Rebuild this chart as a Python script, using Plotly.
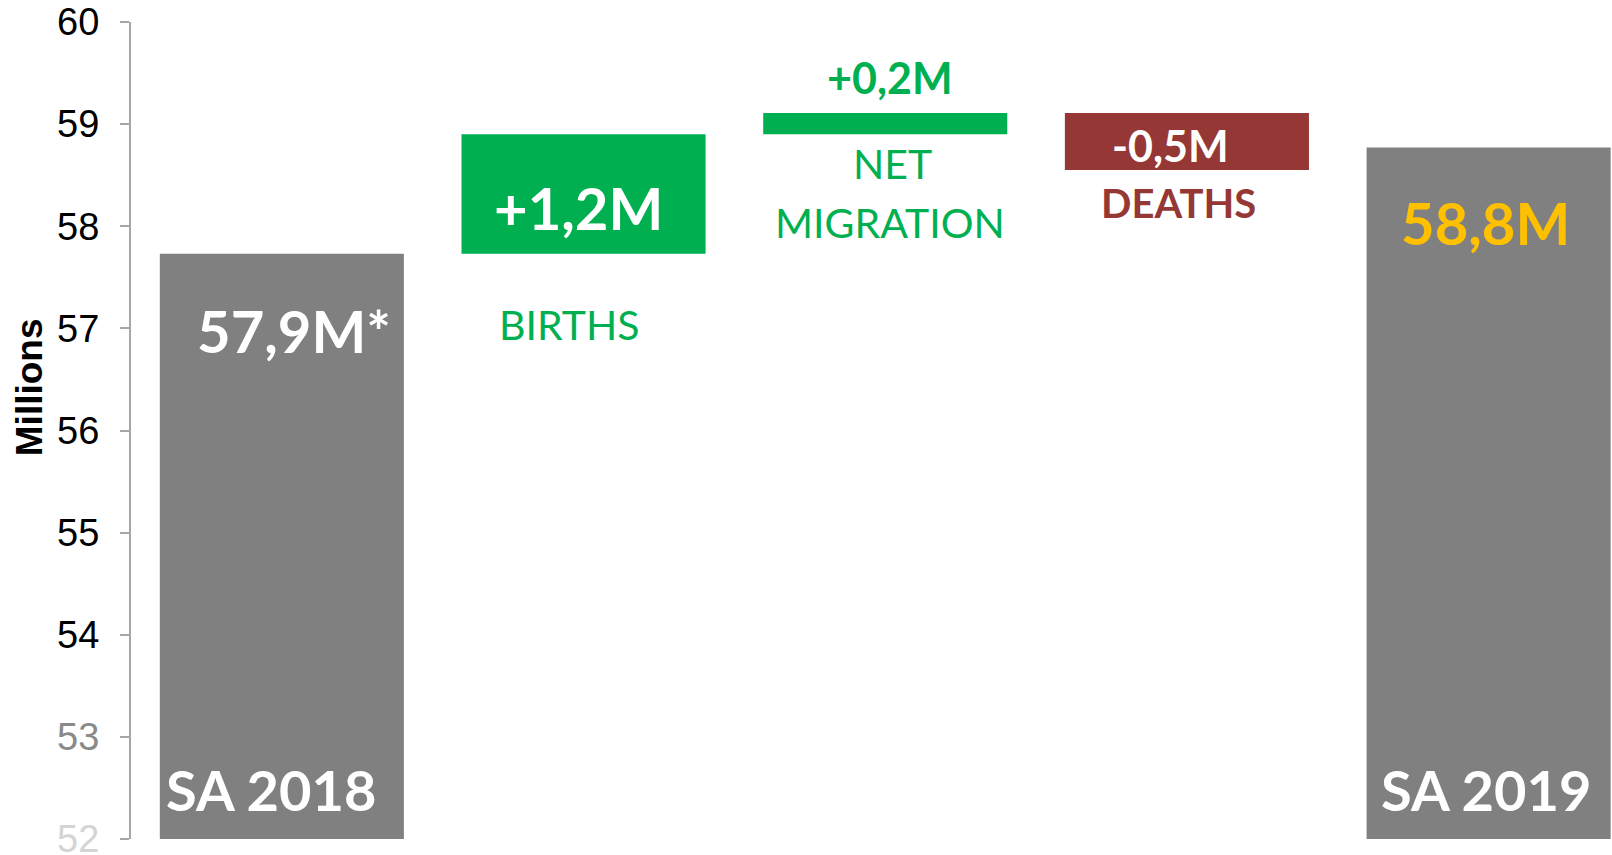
import plotly.graph_objects as go

categories = ["SA 2018", "Births", "Net migration", "Deaths", "SA 2019"]
bar_low = [0.0, 57.73, 58.90, 58.55, 0.0]
bar_high = [57.73, 58.90, 59.11, 59.11, 58.77]
bar_colors = ["#808080", "#00B050", "#00B050", "#953735", "#808080"]

tick_vals = [52, 53, 54, 55, 56, 57, 58, 59, 60]
tick_text = ['<span style="color:#d4d4d4">52</span>', '<span style="color:#8a8a8a">53</span>',
             "54", "55", "56", "57", "58", "59", "60"]

GREEN = "#00B050"
RED = "#953735"
YELLOW = "#FFC000"
LABEL_FONT = "Lato"

heights = [h - l for h, l in zip(bar_high, bar_low)]

fig = go.Figure(go.Bar(
    x=categories, y=heights, base=bar_low,
    marker=dict(color=bar_colors, line=dict(width=0)),
    hoverinfo="skip",
))

def ann(cat, y, text, color, size, bold=True, xshift=0):
    t = f"<b>{text}</b>" if bold else text
    fig.add_annotation(x=cat, y=y, xref="x", yref="y", text=t, showarrow=False,
                       font=dict(family=LABEL_FONT, size=size, color=color),
                       xanchor="center", yanchor="middle", xshift=xshift)

# value / name labels
ann(categories[0], 56.98, "57,9M*", "white", 58, xshift=12)
ann(categories[0], 52.48, "SA 2018", "white", 56, xshift=-11)
ann(categories[1], 58.18, "+1,2M", "white", 58, xshift=-5)
ann(categories[1], 57.04, "BIRTHS", GREEN, 41, bold=False, xshift=-15)
ann(categories[2], 59.46, "+0,2M", GREEN, 43, xshift=5)
ann(categories[2], 58.61, "NET", GREEN, 41, bold=False, xshift=7)
ann(categories[2], 58.04, "MIGRATION", GREEN, 41, bold=False, xshift=5)
ann(categories[3], 58.79, "-0,5M", "white", 43, xshift=-16)
ann(categories[3], 58.23, "DEATHS", RED, 40, xshift=-8)
ann(categories[4], 58.04, "58,8M", YELLOW, 58, xshift=-3)
ann(categories[4], 52.48, "SA 2019", "white", 56, xshift=-3)

W, H = 1612, 855
ML, MT, MB = 131, 22, 16

# y-axis title
fig.add_annotation(x=(29 - ML) / (W - ML), y=0.553, xref="paper", yref="paper",
                   text="<b>Millions</b>", textangle=-90, showarrow=False,
                   font=dict(family="Liberation Sans", size=37, color="black"),
                   xanchor="center", yanchor="middle")

fig.update_layout(
    width=W, height=H,
    margin=dict(l=ML, r=0, t=MT, b=MB, autoexpand=False),
    paper_bgcolor="white", plot_bgcolor="white",
    bargap=0.191,
    showlegend=False,
    xaxis=dict(visible=False, range=[-0.5, 4.409], type="category", automargin=False),
    yaxis=dict(range=[52, 60], tickvals=tick_vals, ticktext=tick_text, automargin=False,
               showgrid=False, zeroline=False, showline=True, linecolor="#a6a6a6",
               linewidth=2, ticks="outside", ticklen=9, tickcolor="#a6a6a6", tickwidth=2,
               tickfont=dict(family="Liberation Sans", size=38, color="black"),
               ticklabelstandoff=13, ticklabeloverflow="allow"),
)

fig.write_html(
    "out.html",
    config={"displayModeBar": False},
    post_script=("document.body.style.margin='0';"
                 "document.body.style.overflow='hidden';"
                 "document.documentElement.style.overflow='hidden';"),
)
